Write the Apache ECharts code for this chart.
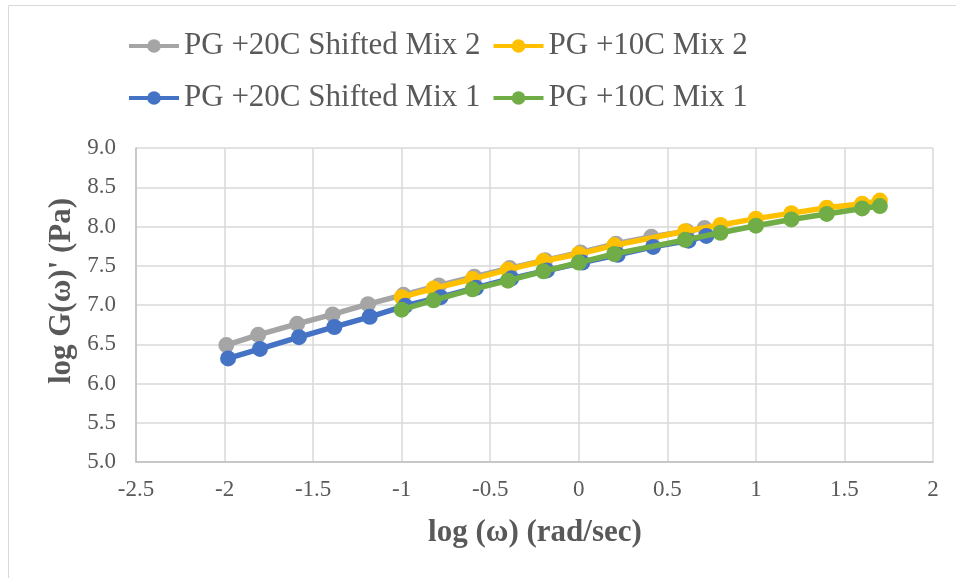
<!DOCTYPE html>
<html>
<head>
<meta charset="utf-8">
<script src="https://cdn.jsdelivr.net/npm/echarts@6/dist/echarts.min.js"></script>
<style>
  html, body { margin: 0; padding: 0; background: #fff; }
  #chart { width: 956px; height: 578px; }
</style>
</head>
<body>
<div id="chart"></div>
<script>
// Series names
const seriesNames = ['PG +20C Shifted Mix 2', 'PG +10C Mix 2', 'PG +20C Shifted Mix 1', 'PG +10C Mix 1'];

// PG +20C Shifted Mix 2 (grey)
const shiftedMix2X = [-1.99, -1.81, -1.59, -1.39, -1.19, -0.99, -0.79, -0.59, -0.39, -0.19, 0.01, 0.21, 0.41, 0.61, 0.71];
const shiftedMix2Y = [6.49, 6.62, 6.76, 6.88, 7.01, 7.13, 7.25, 7.36, 7.47, 7.57, 7.67, 7.78, 7.87, 7.94, 7.98];

// PG +10C Mix 2 (yellow)
const mix2X = [-1.0, -0.82, -0.6, -0.4, -0.2, 0.0, 0.2, 0.6, 0.8, 1.0, 1.2, 1.4, 1.6, 1.7];
const mix2Y = [7.10, 7.21, 7.33, 7.45, 7.56, 7.65, 7.76, 7.94, 8.02, 8.10, 8.17, 8.24, 8.29, 8.33];

// PG +20C Shifted Mix 1 (blue)
const shiftedMix1X = [-1.98, -1.80, -1.58, -1.38, -1.18, -0.98, -0.78, -0.58, -0.38, -0.18, 0.02, 0.22, 0.42, 0.62, 0.72];
const shiftedMix1Y = [6.32, 6.44, 6.59, 6.72, 6.85, 6.99, 7.10, 7.22, 7.34, 7.44, 7.54, 7.64, 7.74, 7.82, 7.88];

// PG +10C Mix 1 (green)
const mix1X = [-1.0, -0.82, -0.6, -0.4, -0.2, 0.0, 0.2, 0.6, 0.8, 1.0, 1.2, 1.4, 1.6, 1.7];
const mix1Y = [6.94, 7.06, 7.20, 7.31, 7.43, 7.54, 7.65, 7.83, 7.92, 8.01, 8.09, 8.16, 8.23, 8.26];

// Axis titles
const xTitle = 'log (ω) (rad/sec)';
const yTitle = "log G(ω)' (Pa)";

const colors = ['#A5A5A5', '#FFC000', '#4472C4', '#70AD47'];
const FONT = '"Liberation Serif", "Times New Roman", serif';
const TEXT = '#595959';

function pairs(xs, ys) { return xs.map((x, i) => [x, ys[i]]); }
const allData = [
  pairs(shiftedMix2X, shiftedMix2Y),
  pairs(mix2X, mix2Y),
  pairs(shiftedMix1X, shiftedMix1Y),
  pairs(mix1X, mix1Y)
];

const chart = echarts.init(document.getElementById('chart'), null, { renderer: 'canvas' });

const LINE_W = 5.5;

const legendCommon = {
  left: 127,
  orient: 'horizontal',
  itemWidth: 50,
  itemHeight: 17,
  itemGap: 11,
  padding: 0,
  textStyle: { fontFamily: FONT, fontSize: 31, color: TEXT, lineHeight: 32 },
  lineStyle: { width: 4 },
  inactiveColor: '#ccc'
};

chart.setOption({
  animation: false,
  backgroundColor: '#ffffff',
  color: colors,
  textStyle: { fontFamily: FONT },
  legend: [
    Object.assign({}, legendCommon, { top: 30, data: [seriesNames[0], seriesNames[1]] }),
    Object.assign({}, legendCommon, { top: 82, data: [seriesNames[2], seriesNames[3]] })
  ],
  grid: { left: 136, right: 23, top: 148, bottom: 116, containLabel: false },
  xAxis: {
    type: 'value',
    min: -2.5, max: 2, interval: 0.5,
    axisLine: { show: true, onZero: false, lineStyle: { color: '#BFBFBF', width: 1.5 } },
    axisTick: { show: false },
    splitLine: { show: true, lineStyle: { color: '#D9D9D9', width: 1.5 } },
    axisLabel: { fontFamily: FONT, fontSize: 23, color: TEXT, margin: 16 }
  },
  yAxis: {
    type: 'value',
    min: 5, max: 9, interval: 0.5,
    axisLine: { show: true, onZero: false, lineStyle: { color: '#BFBFBF', width: 1.5 } },
    axisTick: { show: false },
    splitLine: { show: true, lineStyle: { color: '#D9D9D9', width: 1.5 } },
    axisLabel: { fontFamily: FONT, fontSize: 23, color: TEXT, margin: 20, formatter: v => v.toFixed(1) }
  },
  graphic: [
    { type: 'rect', z: -1, silent: true, shape: { x: 8.5, y: 5.5, width: 1000, height: 1000 },
      style: { fill: 'none', stroke: '#D9D9D9', lineWidth: 1 } },
    { type: 'text', silent: true, x: 535, y: 533,
      style: { text: xTitle, font: 'bold 31px ' + FONT, fill: TEXT, align: 'center', verticalAlign: 'middle' } },
    { type: 'text', silent: true, x: 62, y: 291, rotation: Math.PI / 2,
      style: { text: yTitle, font: 'bold 31px ' + FONT, fill: TEXT, align: 'center', verticalAlign: 'middle' } }
  ],
  series: allData.map((d, i) => ({
    name: seriesNames[i],
    type: 'line',
    data: d,
    symbol: 'circle',
    symbolSize: 16,
    showSymbol: true,
    lineStyle: { width: LINE_W, color: colors[i] },
    itemStyle: { color: colors[i], borderWidth: 0 },
    emphasis: { disabled: true },
    z: 2 + i
  }))
});
</script>
</body>
</html>
